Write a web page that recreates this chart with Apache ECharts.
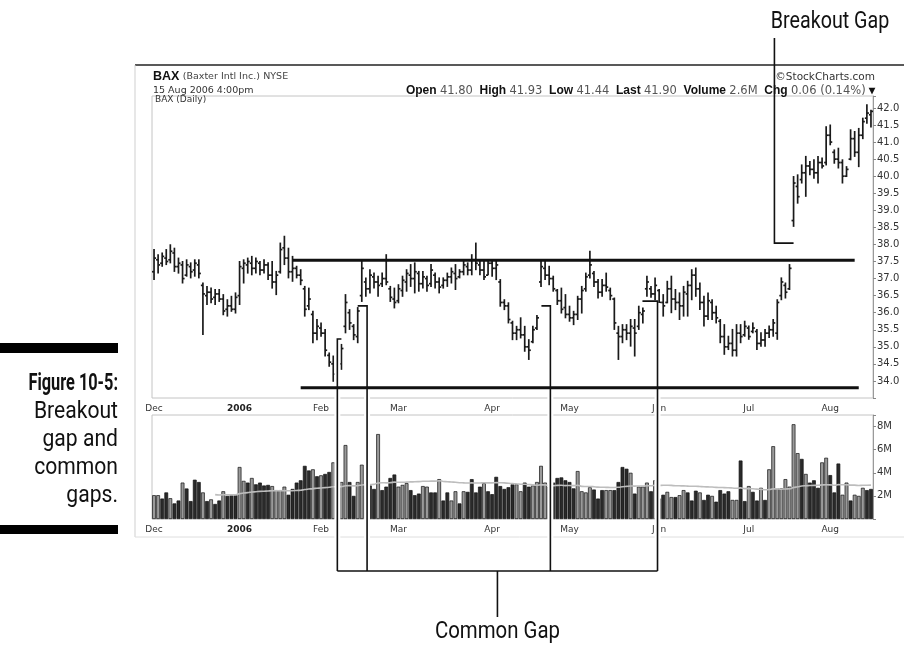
<!DOCTYPE html>
<html>
<head>
<meta charset="utf-8">
<title>Figure 10-5: Breakout gap and common gaps</title>
<script src="https://cdn.jsdelivr.net/npm/echarts@6/dist/echarts.min.js"></script>
<style>
  html, body { margin: 0; padding: 0; background: #fff; }
  #chart { width: 904px; height: 645px; }
</style>
</head>
<body>
<div id="chart"></div>
<script>
// BAX daily bars, 1 Dec 2005 - 15 Aug 2006
const opens = [
  37.20, 37.55, 37.45, 37.60, 37.55, 37.75, 37.35, 37.40, 37.10, 37.35,
  37.25, 37.40, 36.80, 36.50, 36.60, 36.45, 36.55, 36.40, 36.10, 36.20,
  36.10, 36.50, 37.30, 37.40, 37.45, 37.30, 37.45, 37.25, 37.40, 37.10,
  36.90, 37.20, 37.90, 37.60, 37.20, 37.30, 37.10, 36.70, 36.20, 35.95,
  35.40, 35.55, 35.40, 34.75, 34.50, 34.25, 34.50, 35.60, 36.00, 35.60,
  35.30, 36.50, 36.90, 36.70, 37.05, 36.90, 36.85, 37.00, 36.70, 36.40,
  36.35, 36.65, 36.90, 37.10, 37.00, 37.15, 36.85, 37.00, 36.85, 37.10,
  36.90, 36.80, 36.95, 37.05, 37.15, 37.05, 37.20, 37.35, 37.25, 37.55,
  37.40, 37.25, 37.10, 37.45, 37.30, 36.90, 36.30, 36.20, 35.70, 35.40,
  35.50, 35.35, 35.00, 35.15, 35.55, 36.90, 37.30, 37.10, 37.00, 36.65,
  36.35, 36.15, 35.95, 35.85, 35.95, 36.40, 36.70, 37.10, 37.15, 36.90,
  36.60, 36.80, 36.65, 36.40, 35.40, 35.30, 35.50, 35.40, 35.55, 35.60,
  35.95, 36.70, 36.70, 36.55, 36.65, 36.30, 36.30, 36.70, 36.40, 36.30,
  36.20, 36.55, 36.80, 37.10, 36.70, 36.30, 35.90, 36.30, 36.00, 35.75,
  35.30, 35.00, 35.10, 34.90, 35.40, 35.35, 35.55, 35.45, 35.45, 35.10,
  35.20, 35.40, 35.50, 35.40, 36.50, 36.80, 36.70, 38.70, 39.70, 39.90,
  40.10, 40.30, 40.20, 40.10, 40.40, 40.40, 41.20, 40.70, 40.50, 40.40,
  40.00, 40.50, 41.10, 40.70, 41.20, 41.70, 41.80
];
const highs = [
  37.85, 37.70, 37.75, 37.85, 37.99, 37.89, 37.60, 37.50, 37.55, 37.46,
  37.55, 37.55, 36.87, 36.77, 36.72, 36.68, 36.68, 36.53, 36.38, 36.48,
  36.58, 37.50, 37.55, 37.60, 37.65, 37.60, 37.50, 37.55, 37.46, 37.50,
  37.21, 38.04, 38.24, 37.89, 37.65, 37.36, 37.26, 36.77, 36.72, 36.04,
  35.80, 35.70, 35.51, 34.82, 34.73, 34.92, 35.07, 36.53, 36.09, 35.65,
  36.15, 37.55, 37.02, 37.26, 37.16, 37.07, 37.16, 37.70, 36.77, 36.72,
  36.82, 37.07, 37.26, 37.41, 37.46, 37.21, 37.21, 37.07, 37.41, 37.16,
  37.02, 37.02, 37.16, 37.31, 37.41, 37.26, 37.50, 37.46, 37.70, 38.04,
  37.55, 37.50, 37.55, 37.50, 37.50, 36.97, 36.38, 36.29, 35.75, 35.60,
  35.85, 35.60, 35.21, 35.60, 35.92, 37.55, 37.50, 37.36, 37.07, 36.68,
  36.72, 36.53, 36.19, 36.04, 36.48, 36.77, 37.16, 37.80, 37.21, 36.97,
  36.97, 37.16, 36.72, 36.43, 35.60, 35.65, 35.65, 35.80, 35.80, 36.19,
  36.14, 37.07, 36.77, 37.02, 36.68, 36.53, 36.92, 37.07, 36.68, 36.58,
  36.77, 36.92, 37.26, 37.31, 36.87, 36.48, 36.58, 36.38, 36.19, 35.80,
  35.65, 35.31, 35.51, 35.65, 35.65, 35.75, 35.61, 35.70, 35.51, 35.41,
  35.51, 35.61, 35.80, 36.38, 37.02, 36.87, 37.41, 39.99, 40.04, 40.33,
  40.58, 40.43, 40.48, 40.58, 40.53, 41.45, 41.50, 40.77, 40.82, 40.48,
  40.28, 41.36, 41.31, 41.40, 41.70, 42.09, 41.93
];
const lows = [
  36.97, 37.16, 37.36, 37.41, 37.46, 37.21, 37.16, 36.87, 37.07, 37.02,
  37.07, 37.02, 35.36, 36.24, 36.29, 36.24, 36.33, 35.94, 35.90, 36.04,
  35.99, 36.24, 36.87, 37.16, 37.11, 37.16, 37.11, 37.16, 36.97, 36.72,
  36.53, 37.16, 37.41, 37.02, 36.92, 37.02, 36.82, 35.90, 36.09, 35.12,
  35.21, 35.31, 34.73, 34.43, 33.99, 34.14, 34.34, 35.41, 35.51, 35.21,
  35.12, 36.33, 36.48, 36.58, 36.72, 36.48, 36.77, 36.82, 36.33, 36.14,
  36.29, 36.48, 36.63, 36.77, 36.58, 36.63, 36.72, 36.63, 36.77, 36.72,
  36.58, 36.72, 36.77, 36.87, 36.68, 37.02, 37.11, 37.11, 37.11, 37.26,
  37.11, 36.97, 37.11, 37.07, 36.97, 36.19, 36.09, 35.70, 35.21, 35.21,
  35.26, 34.87, 34.63, 35.12, 35.51, 36.77, 36.97, 36.82, 36.63, 36.24,
  35.99, 35.85, 35.75, 35.65, 35.80, 35.99, 36.63, 37.02, 36.77, 36.43,
  36.48, 36.63, 36.38, 35.51, 34.63, 35.12, 35.21, 35.02, 34.73, 35.51,
  35.70, 36.48, 36.45, 36.38, 36.19, 35.90, 36.29, 36.00, 36.09, 35.80,
  35.90, 35.90, 36.38, 36.48, 36.09, 35.61, 35.80, 35.80, 35.70, 35.12,
  34.78, 34.92, 34.73, 34.73, 35.12, 35.31, 35.22, 35.41, 34.92, 35.02,
  35.02, 35.27, 35.31, 35.22, 36.38, 36.43, 36.68, 38.53, 39.21, 39.80,
  39.41, 40.04, 39.94, 39.80, 40.24, 40.33, 40.92, 40.38, 40.24, 39.80,
  39.99, 40.48, 40.58, 40.28, 41.10, 41.55, 41.44
];
const closes = [
  37.60, 37.40, 37.65, 37.50, 37.80, 37.35, 37.45, 37.00, 37.40, 37.20,
  37.45, 37.15, 36.55, 36.60, 36.40, 36.55, 36.40, 36.05, 36.20, 36.10,
  36.45, 37.35, 37.45, 37.50, 37.30, 37.50, 37.25, 37.40, 37.10, 36.90,
  37.10, 37.85, 37.60, 37.20, 37.30, 37.10, 36.95, 36.10, 36.40, 35.40,
  35.60, 35.40, 34.90, 34.55, 34.20, 34.80, 34.95, 36.30, 35.70, 35.35,
  36.05, 37.30, 36.70, 37.10, 36.90, 36.80, 37.00, 36.90, 36.45, 36.30,
  36.70, 36.95, 37.15, 37.00, 37.20, 36.85, 37.05, 36.80, 37.25, 36.90,
  36.75, 36.95, 37.05, 37.20, 37.00, 37.20, 37.40, 37.25, 37.55, 37.45,
  37.25, 37.05, 37.45, 37.30, 37.40, 36.30, 36.20, 35.80, 35.40, 35.50,
  35.35, 35.00, 34.90, 35.50, 35.85, 37.35, 37.10, 37.00, 36.70, 36.35,
  36.10, 35.95, 35.85, 35.95, 36.40, 36.65, 37.05, 37.40, 36.90, 36.60,
  36.80, 36.75, 36.50, 35.70, 35.30, 35.50, 35.40, 35.60, 35.40, 36.00,
  36.05, 36.90, 36.55, 36.80, 36.30, 36.20, 36.70, 36.40, 36.30, 36.20,
  36.60, 36.80, 37.10, 36.70, 36.30, 35.90, 36.35, 36.00, 35.85, 35.30,
  35.00, 35.10, 34.90, 35.40, 35.30, 35.60, 35.30, 35.55, 35.10, 35.20,
  35.40, 35.50, 35.70, 36.30, 36.90, 36.60, 37.30, 39.80, 39.40, 40.10,
  40.30, 40.20, 40.10, 40.40, 40.30, 41.20, 41.00, 40.50, 40.40, 40.00,
  40.20, 41.10, 40.70, 41.20, 41.60, 41.85, 41.90
];
// volume in millions of shares
const volumes = [
  2.06, 2.06, 1.77, 2.30, 1.80, 1.35, 1.60, 3.15, 2.64, 1.55,
  3.40, 3.20, 2.30, 1.55, 1.70, 1.30, 1.60, 2.40, 2.00, 2.06,
  2.06, 4.50, 3.30, 3.15, 3.55, 3.00, 3.15, 2.90, 2.95, 2.85,
  2.50, 2.50, 2.80, 2.10, 2.60, 3.15, 3.35, 4.60, 4.20, 4.30,
  3.70, 3.78, 3.90, 4.07, 4.90, 3.00, 3.20, 6.40, 3.20, 2.00,
  3.20, 4.70, 3.00, 2.90, 2.60, 7.35, 2.50, 2.80, 3.55, 3.85,
  2.80, 2.95, 3.10, 2.50, 2.06, 2.20, 2.85, 2.80, 2.30, 2.30,
  3.45, 1.60, 2.30, 1.60, 2.40, 1.35, 2.40, 2.35, 3.45, 2.30,
  2.80, 3.10, 2.40, 2.15, 3.65, 2.85, 2.60, 2.75, 3.00, 3.00,
  2.40, 3.15, 2.80, 2.90, 3.20, 4.60, 3.15, 2.80, 3.15, 3.55,
  3.60, 3.35, 3.20, 2.65, 4.15, 2.40, 2.30, 2.75, 2.55, 1.77,
  2.50, 2.50, 2.50, 2.50, 3.20, 4.50, 4.35, 4.00, 2.20, 2.80,
  2.80, 3.15, 2.40, 3.35, 1.77, 2.10, 2.35, 1.90, 1.90, 2.06,
  2.50, 2.30, 1.60, 2.45, 2.30, 1.65, 2.10, 2.00, 1.50, 2.50,
  2.20, 2.40, 1.65, 1.65, 5.06, 1.55, 2.85, 2.35, 1.60, 2.70,
  1.65, 4.30, 6.30, 2.65, 2.65, 3.45, 2.80, 8.20, 5.70, 5.20,
  3.90, 3.15, 3.35, 2.70, 4.90, 5.30, 3.80, 2.30, 4.80, 2.10,
  3.15, 1.60, 2.10, 2.00, 2.70, 2.50, 2.60
];
// 1 = dark volume bar, 0 = grey volume bar
const volDark = [
  0, 0, 1, 1, 0, 1, 1, 0, 1, 1,  1, 1, 0, 1, 0, 1, 1, 0, 1, 1,
  1, 0, 0, 1, 0, 1, 1, 1, 1, 0,  0, 0, 0, 1, 1, 1, 1, 1, 1, 0,
  1, 0, 1, 1, 0, 1, 0, 0, 1, 1,  0, 0, 1, 1, 1, 0, 1, 1, 1, 1,
  0, 0, 0, 1, 1, 1, 0, 0, 1, 1,  0, 1, 1, 0, 0, 1, 0, 1, 1, 1,
  1, 0, 1, 1, 1, 1, 1, 1, 1, 0,  0, 1, 1, 0, 0, 0, 0, 0, 1, 1,
  1, 1, 1, 1, 0, 0, 0, 0, 1, 1,  1, 0, 0, 1, 1, 1, 1, 0, 1, 0,
  0, 0, 1, 0, 1, 1, 0, 0, 1, 0,  0, 1, 1, 1, 0, 1, 1, 0, 1, 1,
  1, 1, 0, 0, 1, 1, 0, 1, 1, 0,  1, 0, 0, 0, 0, 0, 0, 0, 0, 1,
  0, 1, 1, 1, 0, 0, 1, 1, 1, 0,  0, 1, 0, 0, 0, 1, 1
];
const holidays = ['2005-12-26', '2006-01-02', '2006-01-16', '2006-02-20', '2006-04-14', '2006-05-29', '2006-07-04'];
const monthNames = ['Jan', 'Feb', 'Mar', 'Apr', 'May', 'Jun', 'Jul', 'Aug', 'Sep', 'Oct', 'Nov', 'Dec'];
const priceTicks = { min: 33.5, max: 42.35, step: 0.5, first: 34, last: 42 };
const volTicks = { min: 0, max: 9, step: 2 };
const resistance = { from: 34, to: 172, price: 37.54 };
const support = { from: 36, to: 173, price: 33.8 };
const maWindow = 50;

// trading days
const dates = [];
for (let t = Date.UTC(2005, 11, 1); t <= Date.UTC(2006, 7, 15); t += 86400000) {
  const d = new Date(t);
  const s = d.toISOString().slice(0, 10);
  if (d.getUTCDay() === 0 || d.getUTCDay() === 6 || holidays.includes(s)) continue;
  dates.push(s);
}
// first trading day of each month gets a label
const monthLabel = {};
dates.forEach((s, i) => {
  if (i === 0 || s.slice(5, 7) !== dates[i - 1].slice(5, 7)) {
    const m = +s.slice(5, 7) - 1;
    monthLabel[s] = m === 0 ? '{y|' + s.slice(0, 4) + '}' : monthNames[m];
  }
});

const ohlc = dates.map((s, i) => [i, opens[i], highs[i], lows[i], closes[i]]);
const volMA = volumes.map((v, i) => {
  if (i < 15) return '-';
  const part = volumes.slice(Math.max(0, i - maWindow + 1), i + 1);
  return +(part.reduce((a, b) => a + b, 0) / part.length).toFixed(3);
});

const SANS = '"Liberation Sans", Arial, sans-serif';
const VERD = '"DejaVu Sans", Verdana, sans-serif';
const BOOK = 'Roboto, "Liberation Sans", sans-serif';

const chart = echarts.init(document.getElementById('chart'));

function renderOHLC(params, api) {
  const i = api.value(0);
  const o = api.coord([i, api.value(1)]);
  const h = api.coord([i, api.value(2)]);
  const l = api.coord([i, api.value(3)]);
  const c = api.coord([i, api.value(4)]);
  const w = api.size([1, 0])[0] * 0.5;
  const st = { stroke: '#1a1a1a', lineWidth: 1.7 };
  return {
    type: 'group',
    children: [
      { type: 'line', shape: { x1: h[0], y1: h[1] - 0.5, x2: l[0], y2: l[1] + 0.5 }, style: st },
      { type: 'line', shape: { x1: o[0] - w, y1: o[1], x2: o[0], y2: o[1] }, style: st },
      { type: 'line', shape: { x1: c[0], y1: c[1], x2: c[0] + w, y2: c[1] }, style: st }
    ]
  };
}

const xLabel = {
  interval: (idx, val) => monthLabel[val] !== undefined,
  formatter: val => monthLabel[val] || '',
  fontSize: 9, color: '#333', fontFamily: VERD, margin: 6,
  rich: { y: { fontSize: 9, fontWeight: 'bold', color: '#222', fontFamily: VERD } }
};

chart.setOption({
  animation: false,
  backgroundColor: '#fff',
  grid: [
    { left: 152, top: 96, width: 721, height: 302, show: true, borderColor: '#c4c4c4', borderWidth: 1 },
    { left: 152, top: 415, width: 721, height: 104, show: true, borderColor: '#c4c4c4', borderWidth: 1 }
  ],
  xAxis: [
    { type: 'category', gridIndex: 0, data: dates, boundaryGap: true,
      axisLine: { show: false }, axisTick: { show: false }, splitLine: { show: false }, axisLabel: xLabel },
    { type: 'category', gridIndex: 1, data: dates, boundaryGap: true,
      axisLine: { show: false }, axisTick: { show: false }, splitLine: { show: false }, axisLabel: xLabel }
  ],
  yAxis: [
    { type: 'value', gridIndex: 0, position: 'right', min: priceTicks.min, max: priceTicks.max, interval: priceTicks.step,
      axisLine: { show: true, lineStyle: { color: '#9a9a9a' } },
      axisTick: { show: true, length: 3, lineStyle: { color: '#888' } },
      splitLine: { show: false },
      axisLabel: { fontSize: 10, color: '#333', fontFamily: VERD, margin: 4,
        formatter: v => (v >= priceTicks.first - 1e-6 && v <= priceTicks.last + 1e-6) ? v.toFixed(1) : '' } },
    { type: 'value', gridIndex: 1, position: 'right', min: volTicks.min, max: volTicks.max, interval: volTicks.step,
      axisLine: { show: true, lineStyle: { color: '#9a9a9a' } },
      axisTick: { show: true, length: 3, lineStyle: { color: '#888' } },
      splitLine: { show: false },
      axisLabel: { fontSize: 10, color: '#333', fontFamily: VERD, margin: 4,
        formatter: v => (v > 0 && v < volTicks.max) ? v + 'M' : '' } }
  ],
  series: [
    { type: 'custom', name: 'BAX', xAxisIndex: 0, yAxisIndex: 0, data: ohlc,
      encode: { x: 0, y: [1, 2, 3, 4] }, renderItem: renderOHLC, clip: false, z: 3 },
    { type: 'line', name: 'resistance', xAxisIndex: 0, yAxisIndex: 0,
      data: [[resistance.from, resistance.price], [resistance.to, resistance.price]],
      symbol: 'none', lineStyle: { color: '#111', width: 3 }, z: 200, silent: true },
    { type: 'line', name: 'support', xAxisIndex: 0, yAxisIndex: 0,
      data: [[support.from, support.price], [support.to, support.price]],
      symbol: 'none', lineStyle: { color: '#111', width: 3 }, z: 200, silent: true },
    { type: 'bar', name: 'Volume', xAxisIndex: 1, yAxisIndex: 1, barCategoryGap: '8%',
      data: volumes.map((v, i) => ({ value: v, itemStyle: { color: volDark[i] ? '#2a2a2a' : '#9a9a9a' } })),
      itemStyle: { borderColor: '#111', borderWidth: 0.7 }, z: 2 },
    { type: 'line', name: 'Volume MA', xAxisIndex: 1, yAxisIndex: 1, data: volMA,
      symbol: 'none', smooth: true, lineStyle: { color: '#bdbdbd', width: 1.6 }, z: 4 }
  ]
});

// annotations tied to the axes
const commonGapMarks = [
  { bar: 45.0, price: 35.23, tick: 46.0 },
  { bar: 52.3, price: 36.2, tick: 50.0 },
  { bar: 97.3, price: 36.2, tick: 95.1 },
  { bar: 123.6, price: 36.34, tick: 119.9 }
];
const breakoutMark = { bar: 152.3, price: 38.04, tick: 157.0 };

function xAt(f) {
  const i0 = Math.floor(f), t = f - i0;
  const a = chart.convertToPixel({ xAxisIndex: 0 }, i0);
  const b = chart.convertToPixel({ xAxisIndex: 0 }, i0 + 1);
  return a + (b - a) * t;
}
function yAt(p) { return chart.convertToPixel({ yAxisIndex: 0 }, p); }

// condensed book type: regular text squeezed horizontally around its anchor
function bookText(text, x, y, size, sx, align, bold) {
  return { type: 'text', z: 150, silent: true, x: x, y: y, scaleX: sx,
    style: { text: text, x: 0, y: 0, align: align, verticalAlign: 'middle',
      font: (bold ? 'bold ' : '') + size + 'px ' + BOOK, fill: '#111' } };
}

const bracketY = 571, stemY = 617;
const g = [];
const blk = { stroke: '#111', lineWidth: 1.6, fill: null };
const gx = commonGapMarks.map(m => xAt(m.bar));
commonGapMarks.forEach((m, k) => {
  const x = gx[k], y = yAt(m.price);
  g.push({ type: 'line', z: 100, silent: true, shape: { x1: x, y1: y + 2, x2: x, y2: bracketY - 2 },
    style: { stroke: '#fff', lineWidth: 6 } });
  g.push({ type: 'polyline', z: 150, silent: true,
    shape: { points: [[xAt(m.tick), y], [x, y], [x, bracketY]] }, style: blk });
});
const xMid = (gx[0] + gx[3]) / 2;
g.push({ type: 'line', z: 150, silent: true, shape: { x1: gx[0], y1: bracketY, x2: gx[3], y2: bracketY }, style: blk });
g.push({ type: 'line', z: 150, silent: true, shape: { x1: xMid, y1: bracketY, x2: xMid, y2: stemY }, style: blk });
g.push(bookText('Common Gap', xMid, 632, 24, 0.85, 'center', false));

const bx = xAt(breakoutMark.bar), by = yAt(breakoutMark.price);
g.push({ type: 'polyline', z: 150, silent: true,
  shape: { points: [[bx, 38], [bx, by], [xAt(breakoutMark.tick), by]] }, style: blk });
g.push(bookText('Breakout Gap', 830, 22, 24, 0.82, 'center', false));

// StockCharts frame and header
g.push({ type: 'line', z: 5, silent: true, shape: { x1: 135, y1: 65, x2: 904, y2: 65 }, style: { stroke: '#222', lineWidth: 1.5 } });
g.push({ type: 'line', z: 5, silent: true, shape: { x1: 135, y1: 65, x2: 135, y2: 537 }, style: { stroke: '#cfcfcf', lineWidth: 1 } });
g.push({ type: 'line', z: 5, silent: true, shape: { x1: 135, y1: 537, x2: 904, y2: 537 }, style: { stroke: '#dedede', lineWidth: 1 } });
g.push({ type: 'text', z: 5, silent: true, style: {
  text: '{t|BAX} {n|(Baxter Intl Inc.)} {n|NYSE}', x: 153, y: 77, verticalAlign: 'middle',
  rich: { t: { font: 'bold 12.5px ' + SANS, fill: '#111' }, n: { font: '9.5px ' + VERD, fill: '#444' } } } });
g.push({ type: 'text', z: 5, silent: true, style: { text: '15 Aug 2006 4:00pm', x: 153, y: 90.5, verticalAlign: 'middle',
  font: '9.5px ' + VERD, fill: '#333' } });
g.push({ type: 'text', z: 5, silent: true, style: { text: '\u00a9StockCharts.com', x: 875, y: 77, align: 'right', verticalAlign: 'middle',
  font: '10.5px ' + VERD, fill: '#333' } });
g.push({ type: 'text', z: 5, silent: true, style: {
  text: '{b|Open} {v|41.80}  {b|High} {v|41.93}  {b|Low} {v|41.44}  {b|Last} {v|41.90}  {b|Volume} {v|2.6M}  {b|Chg} {v|0.06 (0.14%)} {b|\u25be}',
  x: 875, y: 91, align: 'right', verticalAlign: 'middle',
  rich: { b: { font: 'bold 12px ' + SANS, fill: '#111' }, v: { font: '11.5px ' + VERD, fill: '#555' } } } });
g.push({ type: 'text', z: 5, silent: true, style: { text: 'BAX (Daily)', x: 155, y: 100, verticalAlign: 'middle',
  font: '9px ' + VERD, fill: '#333' } });

// book caption on the left
g.push({ type: 'rect', z: 5, silent: true, shape: { x: 0, y: 343, width: 118, height: 10 }, style: { fill: '#000' } });
g.push({ type: 'rect', z: 5, silent: true, shape: { x: 0, y: 525, width: 118, height: 9 }, style: { fill: '#000' } });
const capLines = ['Figure 10-5:', 'Breakout', 'gap and', 'common', 'gaps.'];
capLines.forEach((c, k) => {
  g.push(bookText(c, 118, 384 + k * 28, 24, k === 0 ? 0.68 : 0.88, 'right', k === 0));
});

chart.setOption({ graphic: g });
</script>
</body>
</html>
